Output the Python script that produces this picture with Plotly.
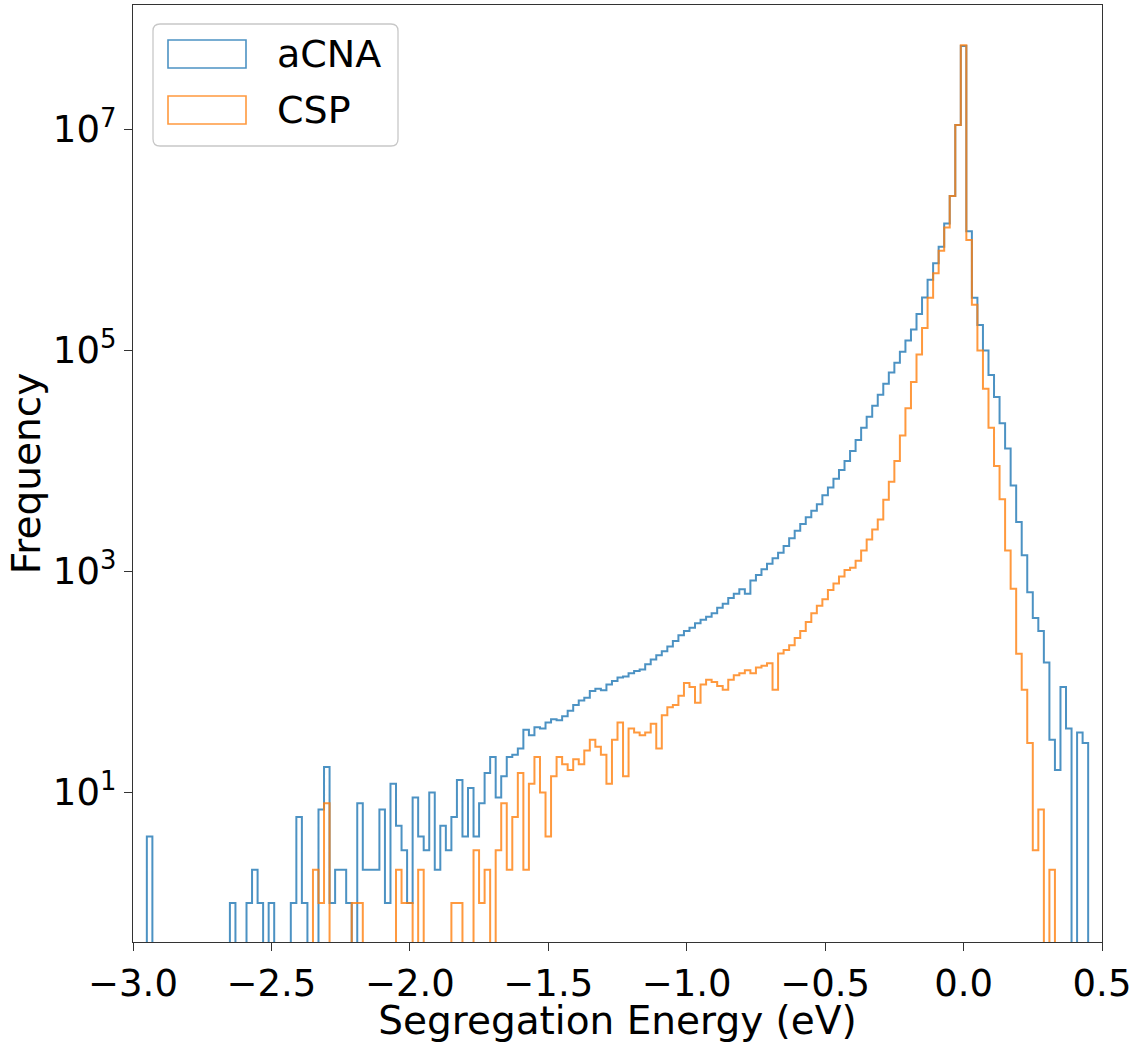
import numpy as np
import plotly.graph_objects as go

# ---------------- data ----------------
bin_width = 0.02
series_names = ["aCNA", "CSP"]

acna_first_center = -2.94
acna_counts = [
    4, 0, 0, 0, 0, 0, 0, 0, 0, 0,
    0, 0, 0, 0, 0, 1, 0, 0, 1, 2,
    1, 0, 1, 0, 0, 0, 1, 6, 1, 0,
    0, 7, 17, 1, 2, 2, 1, 0, 8, 2,
    2, 2, 7, 1, 12, 5, 3, 1, 9, 4,
    3, 10, 2, 5, 3, 6, 13, 4, 11, 4,
    8, 15, 21, 9, 14, 21, 22, 25, 37, 33,
    39, 38, 43, 46, 45, 49, 55, 62, 68, 72,
    83, 87, 84, 95, 102, 110, 112, 120, 126, 130,
    145, 160, 175, 190, 210, 235, 265, 290, 310, 340,
    365, 390, 420, 470, 510, 575, 630, 690, 630, 830,
    930, 1050, 1175, 1320, 1480, 1700, 2000, 2340, 2690, 3090,
    3550, 4070, 4900, 5750, 6900, 8300, 10000, 12300, 15500, 19950,
    25100, 31600, 39800, 50100, 63100, 77600, 97700, 123000, 155000, 214000,
    302000, 437000, 617000, 871000, 1410000, 2500000, 11000000, 57000000, 1200000, 300000,
    170000, 100000, 60000, 38000, 22000, 13000, 6000, 2800, 1400, 650,
    380, 290, 150, 30, 16, 90, 38, 0, 35, 28,
]

csp_first_center = -2.34
csp_counts = [
    2, 1, 8, 0, 0, 0, 0, 1, 1, 0,
    0, 0, 0, 0, 0, 2, 1, 1, 0, 2,
    0, 0, 0, 0, 0, 1, 1, 0, 0, 3,
    1, 2, 0, 3, 8, 2, 6, 15, 2, 12,
    21, 10, 4, 14, 21, 18, 16, 20, 18, 24,
    30, 26, 22, 12, 30, 43, 14, 38, 35, 33,
    35, 42, 25, 50, 59, 62, 75, 98, 90, 65,
    95, 105, 100, 92, 85, 105, 115, 120, 128, 120,
    135, 140, 148, 85, 181, 195, 215, 250, 290, 350,
    420, 490, 560, 680, 780, 900, 1030, 1080, 1250, 1550,
    1950, 2400, 2950, 4450, 6500, 10000, 17000, 30000, 52000, 92000,
    160000, 300000, 500000, 800000, 1300000, 2500000, 11000000, 58000000, 1000000, 260000,
    100000, 45000, 20000, 9000, 4500, 1550, 700, 180, 85, 28,
    3, 7, 0, 2,
]

x_tick_values = [-3.0, -2.5, -2.0, -1.5, -1.0, -0.5, 0.0, 0.5]
x_tick_labels = ["\u22123.0", "\u22122.5", "\u22122.0", "\u22121.5", "\u22121.0", "\u22120.5", "0.0", "0.5"]
y_tick_values = [1e1, 1e3, 1e5, 1e7]
y_tick_labels = ["10<sup>1</sup>", "10<sup>3</sup>", "10<sup>5</sup>", "10<sup>7</sup>"]

# ---------------- styling ----------------
BLUE = "rgba(31,119,180,0.8)"
ORANGE = "rgba(255,127,14,0.8)"
FONT = "DejaVu Sans"
TICK_SIZE = 37
LABEL_SIZE = 39
LEGEND_SIZE = 38
W, H = 1135, 1043
L, R, T, B = 133, 33, 5, 101
PW, PH = W - L - R, H - T - B


def step_outline(first_center, counts, width, floor=1e-3):
    """Outline of a step histogram (like matplotlib histtype='step')."""
    counts = np.asarray(counts, dtype=float)
    edges = first_center - width / 2 + width * np.arange(len(counts) + 1)
    xs, ys = [edges[0]], [floor]
    for i, c in enumerate(counts):
        v = c if c > 0 else floor
        xs += [edges[i], edges[i + 1]]
        ys += [v, v]
    xs.append(edges[-1])
    ys.append(floor)
    return xs, ys


fig = go.Figure()
for name, first, counts, color in [
    (series_names[0], acna_first_center, acna_counts, BLUE),
    (series_names[1], csp_first_center, csp_counts, ORANGE),
]:
    xs, ys = step_outline(first, counts, bin_width)
    fig.add_trace(go.Scatter(x=xs, y=ys, mode="lines", name=name,
                             line=dict(color=color, width=2.0, simplify=False),
                             showlegend=False, hoverinfo="skip"))

axis_common = dict(
    showline=True, linecolor="#333", linewidth=1.3, mirror=True,
    ticks="outside", ticklen=8, tickwidth=1.3, tickcolor="#333",
    showgrid=False, zeroline=False,
    tickfont=dict(family=FONT, size=TICK_SIZE, color="black"),
)

fig.update_xaxes(range=[-3.0, 0.5], tickmode="array", tickvals=x_tick_values,
                 ticktext=x_tick_labels,
                 title=dict(text="Segregation Energy (eV)", standoff=5,
                            font=dict(family=FONT, size=LABEL_SIZE, color="black")),
                 **axis_common)
fig.update_yaxes(type="log", range=[-0.353, 8.127], tickmode="array",
                 tickvals=y_tick_values, ticktext=y_tick_labels,
                 title=dict(text="Frequency", standoff=0,
                            font=dict(family=FONT, size=LABEL_SIZE, color="black")),
                 **axis_common)


# ---------------- legend drawn by hand (matplotlib style) ----------------
def P(px, py):
    return (px - L) / PW, (T + PH - py) / PH


def rounded_rect(x0, y0, x1, y1, r):
    def pt(px, py):
        a, b = P(px, py)
        return f"{a:.5f},{b:.5f}"
    return (f"M {pt(x0 + r, y0)} L {pt(x1 - r, y0)} Q {pt(x1, y0)} {pt(x1, y0 + r)} "
            f"L {pt(x1, y1 - r)} Q {pt(x1, y1)} {pt(x1 - r, y1)} "
            f"L {pt(x0 + r, y1)} Q {pt(x0, y1)} {pt(x0, y1 - r)} "
            f"L {pt(x0, y0 + r)} Q {pt(x0, y0)} {pt(x0 + r, y0)} Z")


shapes = [dict(type="path", xref="paper", yref="paper",
               path=rounded_rect(153, 24, 398, 146, 7),
               line=dict(color="rgba(200,200,200,1)", width=1.3),
               fillcolor="rgba(255,255,255,0.85)", layer="above")]
annotations = []
for (py_top, py_bot, py_mid), name, color in [((40, 68, 54), series_names[0], BLUE),
                                               ((96, 124, 110), series_names[1], ORANGE)]:
    xa, ya = P(168, py_bot)
    xb, yb = P(246, py_top)
    shapes.append(dict(type="rect", xref="paper", yref="paper", x0=xa, y0=ya, x1=xb, y1=yb,
                       line=dict(color=color, width=1.6), fillcolor="rgba(0,0,0,0)",
                       layer="above"))
    tx, ty = P(275, py_mid)
    annotations.append(dict(text=name, x=tx, y=ty, xref="paper", yref="paper",
                            xanchor="left", yanchor="middle", showarrow=False,
                            font=dict(family=FONT, size=LEGEND_SIZE, color="black")))

fig.update_layout(
    width=W, height=H,
    margin=dict(l=L, r=R, t=T, b=B, autoexpand=False),
    paper_bgcolor="white", plot_bgcolor="white",
    font=dict(family=FONT, color="black"),
    shapes=shapes, annotations=annotations,
    showlegend=False,
)

fig.write_html("out.html", config={"displayModeBar": False},
               post_script="document.body.style.margin='0px';")
